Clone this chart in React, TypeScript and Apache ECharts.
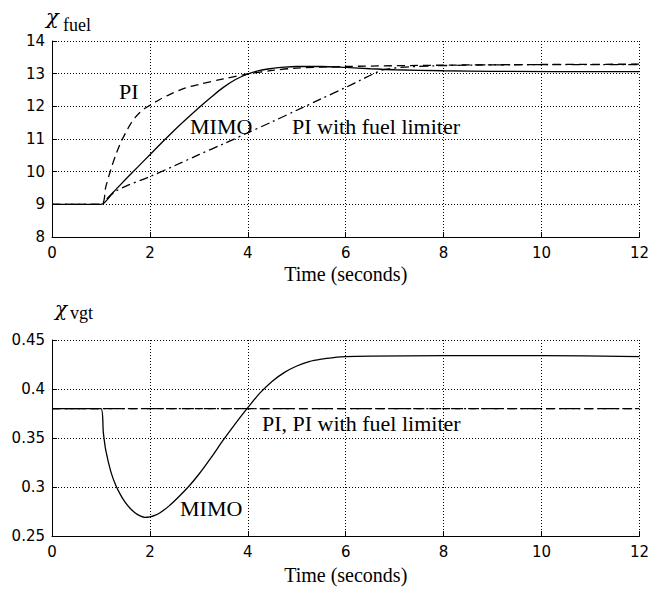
import React, { useEffect, useRef } from "react";
import * as echarts from "echarts";

// ---- Top panel: fuel ----
const tPI = [0, 1, 1.1, 1.2, 1.3, 1.4, 1.5, 1.6, 1.7, 1.8, 1.9, 2.0, 2.2, 2.4, 2.7, 3.0, 3.5, 4.0, 4.5, 5.0, 6, 8, 10, 12];
const fuelPI = [9, 9, 9.54, 10.06, 10.5, 10.88, 11.18, 11.45, 11.66, 11.82, 11.94, 12.03, 12.21, 12.36, 12.55, 12.67, 12.84, 12.99, 13.1, 13.17, 13.22, 13.26, 13.28, 13.29];

const tMIMO = [0, 1, 1.25, 1.5, 1.75, 2.0, 2.25, 2.5, 2.75, 3.0, 3.25, 3.5, 3.75, 4.0, 4.25, 4.5, 4.75, 5.0, 5.5, 6.0, 6.5, 7, 8, 9, 12];
const fuelMIMO = [9, 9, 9.37, 9.76, 10.14, 10.52, 10.9, 11.27, 11.62, 11.96, 12.28, 12.58, 12.82, 12.99, 13.1, 13.16, 13.2, 13.22, 13.22, 13.19, 13.15, 13.12, 13.09, 13.07, 13.06];

const tLim = [0, 1, 1.15, 1.3, 1.5, 2.0, 2.5, 3.0, 3.5, 4.0, 4.5, 5.0, 5.5, 6.0, 6.3, 6.6, 6.8, 7.2, 7.8, 9, 12];
const fuelLim = [9, 9, 9.22, 9.4, 9.55, 9.85, 10.18, 10.52, 10.85, 11.19, 11.53, 11.88, 12.23, 12.58, 12.8, 13.02, 13.13, 13.2, 13.24, 13.27, 13.28];

// ---- Bottom panel: vgt ----
const tVgtPI = [0, 12];
const vgtPI = [0.38, 0.38];

const tVgtMIMO = [0, 1, 1.05, 1.1, 1.2, 1.3, 1.4, 1.5, 1.6, 1.7, 1.8, 1.9, 2.0, 2.1, 2.2, 2.4, 2.6, 2.8, 3.0, 3.25, 3.5, 3.75, 4.0, 4.25, 4.5, 4.75, 5.0, 5.25, 5.5, 5.75, 6.0, 6.5, 8, 10, 12];
const vgtMIMO = [0.38, 0.38, 0.355, 0.337, 0.316, 0.302, 0.292, 0.284, 0.278, 0.2735, 0.2705, 0.269, 0.2695, 0.271, 0.2735, 0.281, 0.2905, 0.301, 0.313, 0.33, 0.348, 0.365, 0.381, 0.396, 0.408, 0.417, 0.4235, 0.428, 0.4305, 0.432, 0.433, 0.4335, 0.434, 0.434, 0.433];

const zip = (t: number[], v: number[]) => t.map((x, i) => [x, v[i]]);

const SERIF = "'Liberation Serif', 'Times New Roman', serif";
const GREEK = "'DejaVu Serif', serif";
const SANS = "'DejaVu Sans', sans-serif";

const DASH = [8, 5];
const DASHDOT = [9, 4, 2, 4];

function axisCommon() {
  return {
    axisLine: { show: true, onZero: false, lineStyle: { color: "#000", width: 1 } },
    axisTick: { show: true, inside: true, length: 5, lineStyle: { color: "#000" } },
    axisLabel: { color: "#000", fontFamily: SANS, fontSize: 15 },
    splitLine: { show: true, lineStyle: { color: "#000", type: [1, 2], width: 1 } },
  };
}

export default function App() {
  const ref = useRef<HTMLDivElement>(null);
  useEffect(() => {
    if (!ref.current) return;
    const chart = echarts.init(ref.current, undefined, { renderer: "svg" });
    const line = (name: string, data: number[][], type: any, xi: number, width = 1.3) => ({
      name,
      type: "line",
      xAxisIndex: xi,
      yAxisIndex: xi,
      data,
      showSymbol: false,
      smooth: 0.3,
      lineStyle: { color: "#000", width, type },
      z: 3,
    });
    const text = (t: string, x: number, y: number, size = 22, family = SERIF, italic = false) => ({
      type: "text",
      x,
      y,
      style: {
        text: t,
        fontFamily: family,
        fontSize: size,
        fontStyle: italic ? "italic" : "normal",
        fill: "#000",
        verticalAlign: "middle",
        align: "left",
      },
      z: 10,
    });
    chart.setOption({
      animation: false,
      backgroundColor: "#fff",
      grid: [
        { left: 52, top: 41, width: 590, height: 196 },
        { left: 52, top: 340, width: 590, height: 196 },
      ],
      xAxis: [0, 1].map((i) => ({
        type: "value",
        gridIndex: i,
        min: 0,
        max: 12,
        interval: 2,
        ...axisCommon(),
        axisLabel: { ...axisCommon().axisLabel, margin: 8 },
        name: "Time (seconds)",
        nameLocation: "middle",
        nameGap: i === 0 ? 27 : 29,
        nameTextStyle: { fontFamily: SERIF, fontSize: 20, color: "#000" },
      })),
      yAxis: [
        {
          type: "value",
          gridIndex: 0,
          min: 8,
          max: 14,
          interval: 1,
          ...axisCommon(),
          axisLabel: { ...axisCommon().axisLabel, margin: 7 },
        },
        {
          type: "value",
          gridIndex: 1,
          min: 0.25,
          max: 0.45,
          interval: 0.05,
          ...axisCommon(),
          axisLabel: {
            ...axisCommon().axisLabel,
            margin: 7,
            formatter: (v: number) => String(+v.toFixed(2)),
          },
        },
      ],
      series: [
        line("PI", zip(tPI, fuelPI), DASH, 0),
        line("MIMO", zip(tMIMO, fuelMIMO), "solid", 0),
        line("PI with fuel limiter", zip(tLim, fuelLim), DASHDOT, 0),
        line("PI vgt", zip(tVgtPI, vgtPI), DASH, 1),
        line("PI with fuel limiter vgt", zip(tVgtPI, vgtPI), DASHDOT, 1),
        line("MIMO vgt", zip(tVgtMIMO, vgtMIMO), "solid", 1),
      ],
      graphic: [
        text("χ", 46, 17, 21, GREEK, true),
        text("fuel", 63, 25, 18),
        text("χ", 55, 309, 20, GREEK, true),
        text("vgt", 70, 313, 18),
        text("PI", 119, 91),
        text("MIMO", 190, 126),
        text("PI with fuel limiter", 292, 126),
        text("PI, PI with fuel limiter", 262, 423),
        text("MIMO", 180, 508),
      ],
    });
    return () => chart.dispose();
  }, []);
  return (
    <div
      ref={ref}
      style={{ position: "absolute", left: 0, top: 0, width: 652, height: 592, background: "#fff" }}
    />
  );
}
